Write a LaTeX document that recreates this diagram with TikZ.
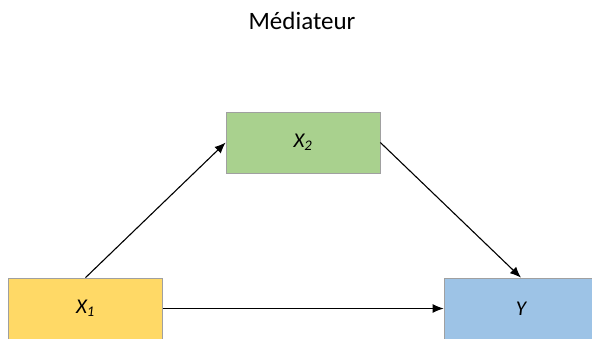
\documentclass[tikz,border=0pt]{standalone}
\usepackage{fontspec}
\setmainfont{Carlito}
\usetikzlibrary{positioning, arrows.meta}
\definecolor{jaune}{HTML}{FFD966}
\definecolor{vert}{HTML}{A9D18E}
\definecolor{bleu}{HTML}{9DC3E6}
\definecolor{bord}{HTML}{A0A0A0}
\begin{document}
\begin{tikzpicture}[->,>={Latex[length=11pt,width=9pt]},x=1pt,y=-1pt,line width=1.1pt,
  box/.style={draw=bord,line width=0.7pt,minimum width=154pt,minimum height=61pt,inner sep=0pt,font=\fontsize{21}{24}\selectfont\itshape}]

\useasboundingbox (0,0) rectangle (592,338);
\clip (0,0) rectangle (592,338);

\node (t) at (302,21) {\fontsize{25}{28}\selectfont Médiateur};

\node[box, fill=jaune] (1) at (85.5,308.5) {X\textsubscript{1}};
\node[box, fill=vert] (2) at (303,142.5) {X\textsubscript{2}};
\node[box, fill=bleu] (3) at (521,308.5) {Y};

         \draw (1.north) -- (2.west);
         \draw (2.east) -- (3.north);
         \draw (1) -- (3);

\end{tikzpicture}
\end{document}
